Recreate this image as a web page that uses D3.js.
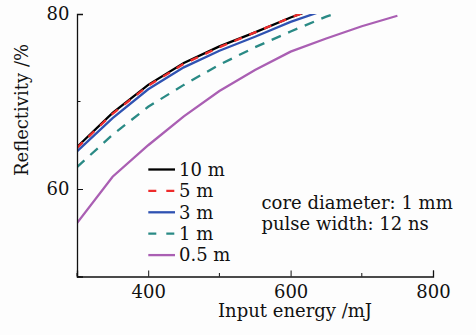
<!DOCTYPE html>
<html><head><meta charset="utf-8">
<script src="https://cdn.jsdelivr.net/npm/d3@7"></script>
<style>body{margin:0;background:#fdfdfd}svg{display:block}text{font-family:"DejaVu Serif",serif;fill:#111}</style>
</head><body>
<svg id="c" width="476" height="335"></svg>
<script>
const seriesNames = ["10 m", "5 m", "3 m", "1 m", "0.5 m"];
const energy10 = [300, 350, 400, 450, 500, 550, 600, 650];
const refl10 = [64.8, 68.7, 71.9, 74.4, 76.3, 77.9, 79.6, 81.1];
const energy5 = [300, 350, 400, 450, 500, 550, 600, 650];
const refl5 = [64.7, 68.6, 71.8, 74.3, 76.2, 77.9, 79.6, 81.1];
const energy3 = [300, 350, 400, 450, 500, 550, 600, 650];
const refl3 = [64.3, 68.1, 71.4, 73.9, 75.8, 77.4, 79.1, 80.5];
const energy1 = [300, 350, 400, 450, 500, 550, 600, 650, 700];
const refl1 = [62.5, 66.2, 69.4, 71.9, 74.2, 76.2, 78.0, 79.7, 81.0];
const energy05 = [300, 350, 400, 450, 500, 550, 600, 650, 700, 750];
const refl05 = [56.1, 61.4, 65.0, 68.3, 71.2, 73.6, 75.7, 77.2, 78.6, 79.8];
const xMajorTicks = [400, 600, 800];
const xMinorTicks = [300, 500, 700];
const yMajorTicks = [60, 80];
const yMinorTicks = [50, 70];
const annotation = ["core diameter: 1 mm", "pulse width: 12 ns"];

const energies = [energy10, energy5, energy3, energy1, energy05];
const refls = [refl10, refl5, refl3, refl1, refl05];
const colors = ["#000000", "#ee2b2b", "#2f52b2", "#2a8a85", "#aa5fb3"];
const dashes = [null, "8,8", null, "10,8", null];
const FS = "18px";

const svg = d3.select("#c");
const x = d3.scaleLinear().domain([300, 800]).range([77, 433]);
const y = d3.scaleLinear().domain([50, 80]).range([276.5, 14]);

svg.append("defs").append("clipPath").attr("id", "clip")
  .append("rect").attr("x", 77).attr("y", y(80)).attr("width", 356).attr("height", y(50) - y(80));

const line = d3.line().x(d => x(d[0])).y(d => y(d[1]));
const g = svg.append("g").attr("clip-path", "url(#clip)");
[0, 1, 2, 3, 4].forEach(i => {
  const pts = energies[i].map((e, k) => [e, refls[i][k]]);
  g.append("path").attr("d", line(pts)).attr("fill", "none")
    .attr("stroke", colors[i]).attr("stroke-width", 2.3)
    .attr("stroke-dasharray", dashes[i]);
});

// axes
const xAxis = svg.append("g").attr("transform", `translate(0,${y(50)})`)
  .call(d3.axisBottom(x).tickValues(xMajorTicks).tickSize(-6).tickFormat(d3.format("d")));
xAxis.selectAll(".tick text").attr("dy", null).attr("y", 21.5);
xAxis.append("g").selectAll("line").data(xMinorTicks).join("line")
  .attr("x1", d => x(d)).attr("x2", d => x(d)).attr("y1", 0).attr("y2", -3.5).attr("stroke", "#111");
const yAxis = svg.append("g").attr("transform", `translate(${x(300)},0)`)
  .call(d3.axisLeft(y).tickValues(yMajorTicks).tickSize(-6).tickPadding(8).tickFormat(d3.format("d")));
yAxis.selectAll(".tick text").attr("x", -7.5);
yAxis.append("g").selectAll("line").data(yMinorTicks).join("line")
  .attr("y1", d => y(d)).attr("y2", d => y(d)).attr("x1", 0).attr("x2", 3.5).attr("stroke", "#111");
[xAxis, yAxis].forEach(a => {
  a.select(".domain").attr("stroke", "#111").attr("stroke-width", 1.3);
  a.selectAll(".tick line").attr("stroke", "#111");
  a.selectAll("text").style("font-family", "DejaVu Serif, serif").style("font-size", FS).attr("fill", "#111");
});

// axis titles
svg.append("text").attr("x", 295).attr("y", 317).attr("text-anchor", "middle")
  .style("font-size", FS).text("Input energy /mJ");
svg.append("text").attr("transform", "translate(28,110) rotate(-90)").attr("text-anchor", "middle")
  .style("font-size", FS).text("Reflectivity /%");

// legend
const leg = svg.append("g");
seriesNames.forEach((n, i) => {
  const ly = 169.5 + i * 21.4;
  leg.append("line").attr("x1", 148.3).attr("x2", 175).attr("y1", ly).attr("y2", ly)
    .attr("stroke", colors[i]).attr("stroke-width", 2.3)
    .attr("stroke-dasharray", dashes[i] ? "8,10" : null);
  leg.append("text").attr("x", 179).attr("y", ly + 6.3).style("font-size", FS).text(n);
});

// annotation
annotation.forEach((t, i) => {
  svg.append("text").attr("x", 261.5).attr("y", 208.5 + i * 21).style("font-size", FS).text(t);
});
</script>
</body></html>
